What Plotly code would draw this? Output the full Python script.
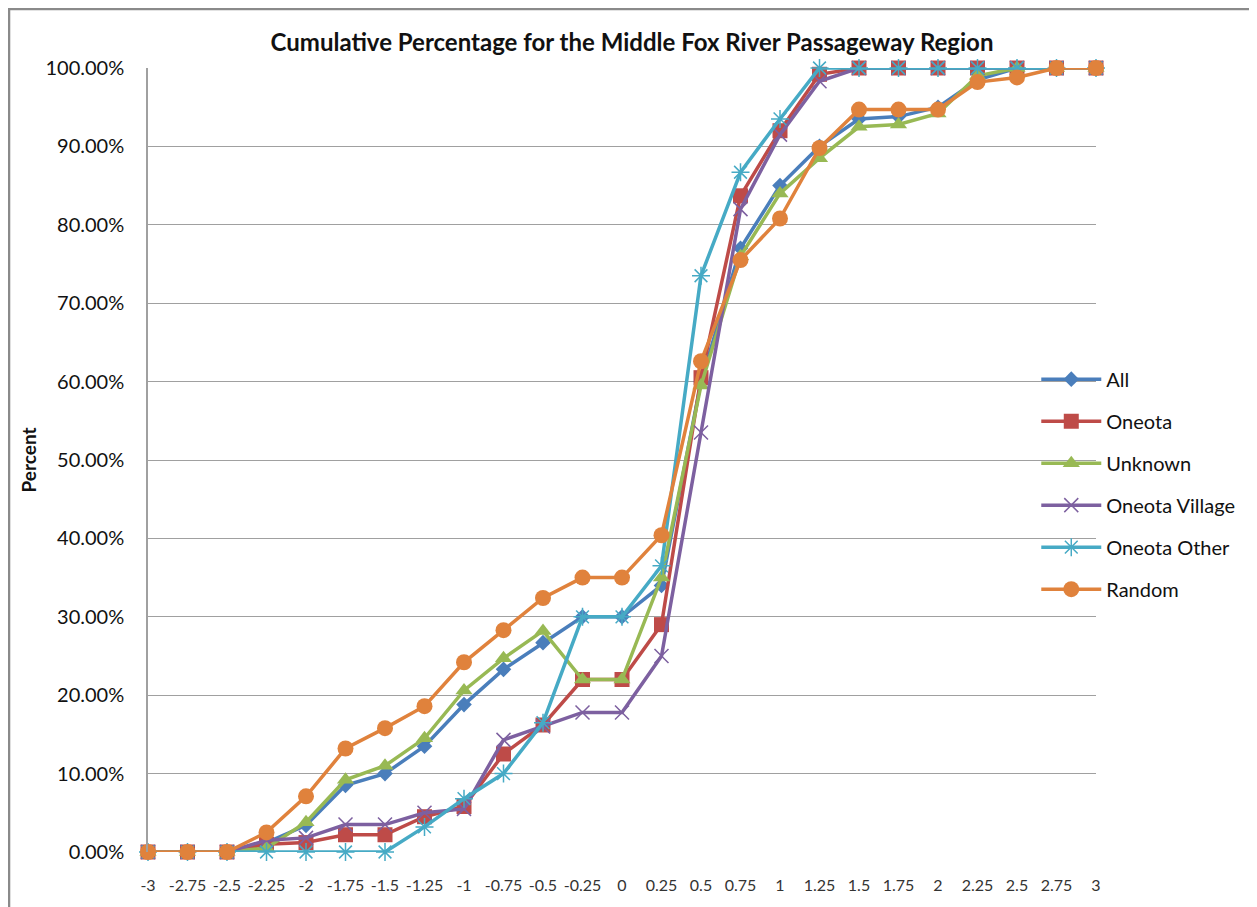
import plotly.graph_objects as go

# Category labels along the x axis
x_labels = ["-3", "-2.75", "-2.5", "-2.25", "-2", "-1.75", "-1.5", "-1.25", "-1",
            "-0.75", "-0.5", "-0.25", "0", "0.25", "0.5", "0.75", "1", "1.25",
            "1.5", "1.75", "2", "2.25", "2.5", "2.75", "3"]

# Cumulative fractions
all_vals = [0, 0, 0, 0.012, 0.034, 0.085, 0.100, 0.135, 0.188, 0.233, 0.267, 0.300,
            0.300, 0.340, 0.600, 0.770, 0.850, 0.900, 0.935, 0.938, 0.950, 0.985,
            1.0, 1.0, 1.0]
oneota = [0, 0, 0, 0.010, 0.012, 0.022, 0.022, 0.045, 0.058, 0.125, 0.162, 0.220,
          0.220, 0.290, 0.605, 0.837, 0.920, 0.992, 1.0, 1.0, 1.0, 1.0, 1.0, 1.0, 1.0]
unknown = [0, 0, 0, 0.005, 0.038, 0.092, 0.110, 0.145, 0.206, 0.247, 0.282, 0.220,
           0.220, 0.350, 0.595, 0.760, 0.840, 0.885, 0.925, 0.928, 0.942, 0.990,
           1.0, 1.0, 1.0]
oneota_village = [0, 0, 0, 0.015, 0.018, 0.035, 0.035, 0.050, 0.055, 0.143, 0.160,
                  0.178, 0.178, 0.250, 0.535, 0.820, 0.915, 0.983, 1.0, 1.0, 1.0,
                  1.0, 1.0, 1.0, 1.0]
oneota_other = [0, 0, 0, 0, 0, 0, 0, 0.032, 0.068, 0.100, 0.165, 0.300, 0.300,
                0.365, 0.735, 0.867, 0.935, 1.0, 1.0, 1.0, 1.0, 1.0, 1.0, 1.0, 1.0]
random_vals = [0, 0, 0, 0.025, 0.071, 0.132, 0.158, 0.186, 0.242, 0.283, 0.324,
               0.350, 0.350, 0.404, 0.626, 0.755, 0.808, 0.898, 0.947, 0.947, 0.947,
               0.982, 0.988, 1.0, 1.0]

y_ticks = [i / 10 for i in range(11)]

FONT = "Lato, 'Open Sans', sans-serif"

series = [
    ("All", all_vals, "#4A7EBB", dict(symbol="diamond", size=12)),
    ("Oneota", oneota, "#BE4B48", dict(symbol="square", size=15)),
    ("Unknown", unknown, "#98B954", dict(symbol="triangle-up", size=15)),
    ("Oneota Village", oneota_village, "#7D60A0",
     dict(symbol="x-thin-open", size=14, line=dict(color="#9A85BC", width=1.5))),
    ("Oneota Other", oneota_other, "#46AAC5",
     dict(symbol="asterisk-open", size=15, line=dict(color="#6FC0D8", width=1.5))),
    ("Random", random_vals, "#E0823C", dict(symbol="circle", size=16)),
]

fig = go.Figure()
for name, vals, color, marker in series:
    marker = dict(marker)
    marker.setdefault("color", color)
    fig.add_trace(go.Scatter(
        x=x_labels, y=vals, name=name, mode="lines+markers",
        line=dict(color=color, width=3.5), marker=marker,
        legendgroup=name, cliponaxis=False))

# the page body adds an 8px margin, so the figure is sized to fit inside it
fig.update_layout(
    width=1249, height=899,
    paper_bgcolor="white", plot_bgcolor="white",
    margin=dict(l=140, r=161, t=60, b=55),
    font=dict(family=FONT, color="#222"),
    title=dict(text="<b>Cumulative Percentage for the Middle Fox River Passageway Region</b>",
               x=0.4996, xanchor="center", y=0.961, yanchor="middle",
               font=dict(size=24, color="#111")),
    legend=dict(x=0.937, xanchor="left", y=0.628, yanchor="top",
                bgcolor="rgba(255,255,255,0)", tracegroupgap=13, itemwidth=60,
                font=dict(size=20, color="#111")),
    showlegend=True,
)
fig.update_xaxes(type="category", range=[0, len(x_labels) - 1], showgrid=False,
                 showline=False, ticks="", tickfont=dict(size=16, color="#333"),
                 zeroline=False, ticklabelstandoff=22)
fig.update_yaxes(range=[0, 1], tickvals=y_ticks, tickformat=".2%",
                 showgrid=True, gridcolor="#A0A0A0", gridwidth=1,
                 showline=True, linecolor="#A0A0A0", linewidth=1.5,
                 ticks="", tickfont=dict(size=20, color="#111"), zeroline=False,
                 ticklabelstandoff=18,
                 title=dict(text="<b>Percent</b>", font=dict(size=19, color="#111"),
                            standoff=4))

# Outer chart frame
fig.add_shape(type="rect", xref="paper", yref="paper",
              x0=-0.1466, x1=1.1646, y0=-0.1, y1=1.0753,
              line=dict(color="#8A8A8A", width=2.5), fillcolor="rgba(0,0,0,0)",
              layer="below")

fig.write_html("out.html")
